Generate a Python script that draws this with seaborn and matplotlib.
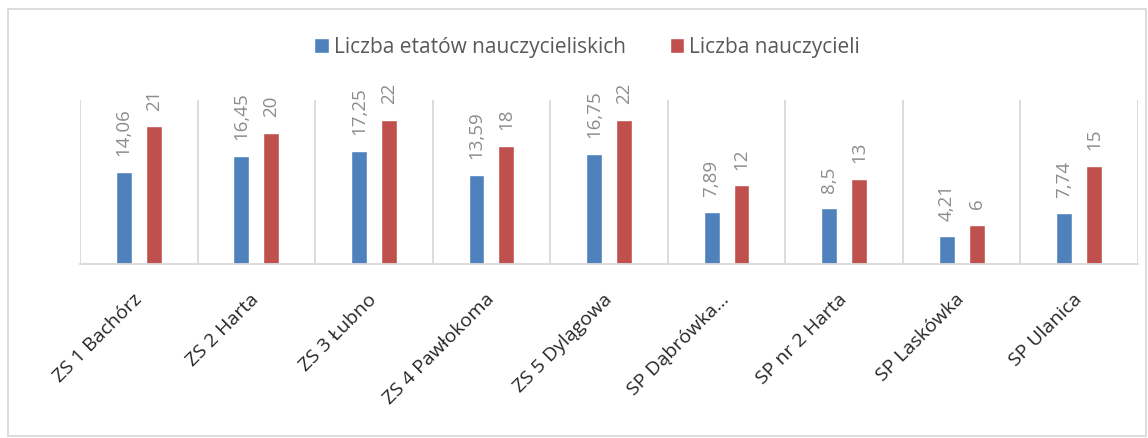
import matplotlib
matplotlib.use("Agg")
import matplotlib.pyplot as plt
import seaborn as sns
import pandas as pd
from matplotlib.patches import Rectangle

schools = ["ZS 1 Bachórz", "ZS 2 Harta", "ZS 3 Łubno", "ZS 4 Pawłokoma",
           "ZS 5 Dylągowa", "SP Dąbrówka…", "SP nr 2 Harta", "SP Laskówka",
           "SP Ulanica"]
etaty = [14.06, 16.45, 17.25, 13.59, 16.75, 7.89, 8.5, 4.21, 7.74]
nauczyciele = [21, 20, 22, 18, 22, 12, 13, 6, 15]
series_names = ["Liczba etatów nauczycieliskich", "Liczba nauczycieli"]
colors = ["#4F81BD", "#C0504D"]

df = pd.DataFrame({
    "szkoła": schools * 2,
    "wartość": etaty + nauczyciele,
    "seria": [series_names[0]] * len(schools) + [series_names[1]] * len(schools),
})

sns.set_theme(style="white")
plt.rcParams["font.family"] = ["Open Sans", "DejaVu Sans"]

fig = plt.figure(figsize=(11.48, 4.39), dpi=100)
ax = fig.add_axes([80 / 1148, 1 - 265 / 439, (1138 - 80) / 1148, (265 - 101) / 439])

sns.barplot(data=df, x="szkoła", y="wartość", hue="seria", palette=colors,
            width=0.51, gap=0.47, ax=ax, legend=True, saturation=1)

ax.set_xlim(-0.5, len(schools) - 0.5)
ax.set_ylim(0, 25)

# category separators
for i in range(len(schools) + 1):
    ax.axvline(i - 0.5, color="#D9D9D9", lw=1.3, zorder=0)

for s in ["top", "right", "left"]:
    ax.spines[s].set_visible(False)
ax.spines["bottom"].set_color("#D9D9D9")
ax.spines["bottom"].set_linewidth(1.3)

ax.set_yticks([])
ax.set_xlabel("")
ax.set_ylabel("")
ax.tick_params(axis="x", length=0, pad=23)
ax.set_xticks(range(len(schools)))
ax.set_xticklabels(schools, rotation=45, ha="right", va="center",
                   rotation_mode="anchor", fontsize=14, color="#262626")

# data labels
for cont, vals in zip(ax.containers, [etaty, nauczyciele]):
    labels = [("%.2f" % v).rstrip("0").replace(".", ",") if v != int(v) else str(int(v))
              for v in vals]
    ax.bar_label(cont, labels=labels, rotation=90, padding=12, fontsize=13.5,
                 color="#8C8C8C")

# legend
handles, labs = ax.get_legend_handles_labels()
ax.get_legend().remove()
fig.legend(handles, labs, loc="center", bbox_to_anchor=(587 / 1148, 1 - 48 / 439),
           ncol=2, frameon=False, fontsize=15, handlelength=0.7, handleheight=0.7,
           columnspacing=2.1, handletextpad=0.25, labelcolor="#595959")

# outer border
fig.patches.append(Rectangle((8 / 1148, 2 / 439), 1138 / 1148, 427 / 439,
                             transform=fig.transFigure, fill=False,
                             edgecolor="#D9D9D9", lw=1.3))

fig.savefig("out.png", dpi=100)
